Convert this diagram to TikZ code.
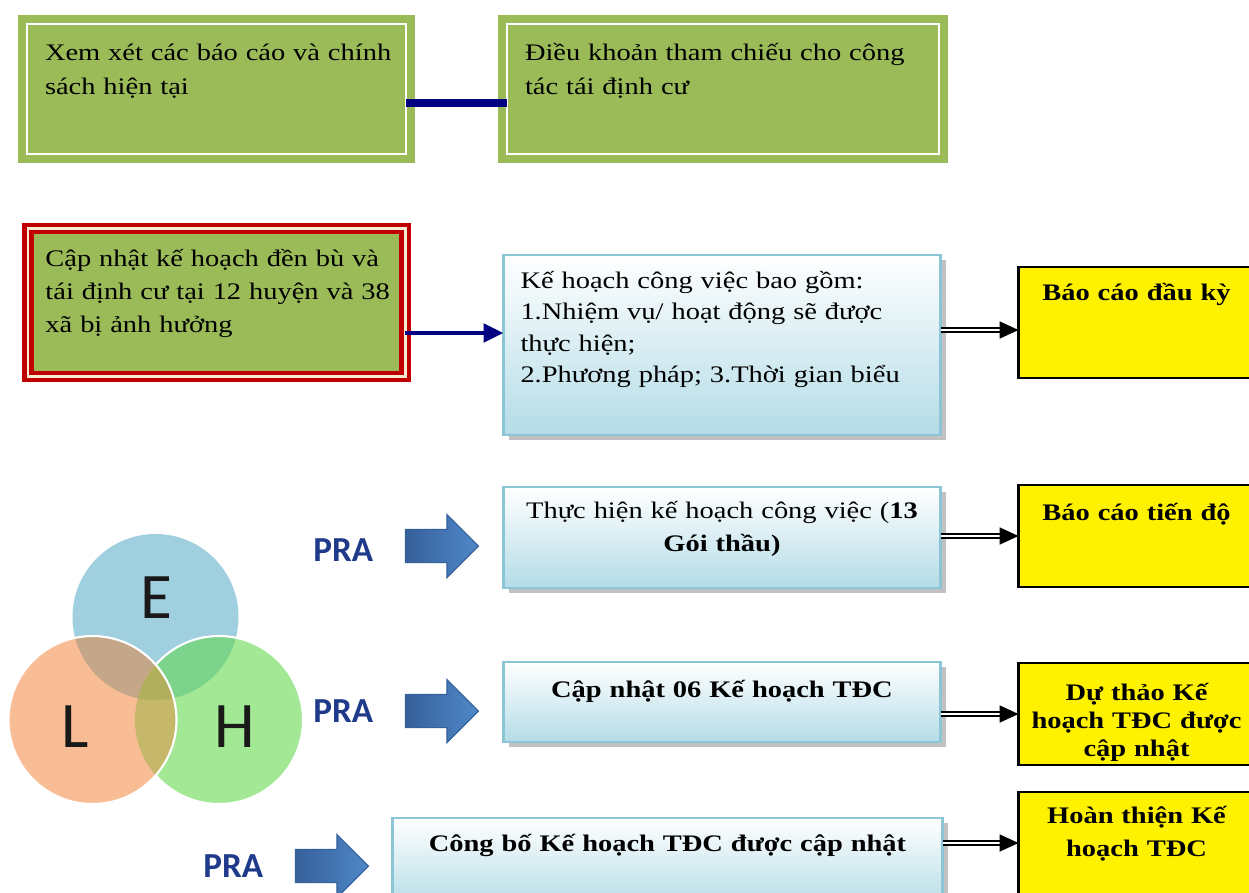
\documentclass[tikz,border=0pt]{standalone}
\usepackage{fontspec}
\setmainfont{Liberation Serif}[FakeStretch=1.2]
\newfontfamily\prafont{Carlito}
\usetikzlibrary{positioning}
\usetikzlibrary{shapes.arrows}
\usetikzlibrary{shadows}
\usetikzlibrary{arrows.meta}

\definecolor{boxgreen}{HTML}{9BBB59}
\definecolor{boxred}{HTML}{C00000}
\definecolor{boxcream}{HTML}{F6ECD2}
\definecolor{planblue}{HTML}{B4DCE7}
\definecolor{planedge}{HTML}{8CC6D6}
\definecolor{linknavy}{HTML}{000080}
\definecolor{arrowblue}{HTML}{5088C8}
\definecolor{arrowdark}{HTML}{35609A}
\definecolor{pratext}{HTML}{1F3A8A}
\definecolor{vennE}{HTML}{A0CFE0}
\definecolor{vennL}{HTML}{F8BD94}
\definecolor{vennH}{HTML}{A2E895}
\definecolor{vennEL}{HTML}{C4A688}
\definecolor{vennEH}{HTML}{7CD38C}
\definecolor{vennLH}{HTML}{C6B86A}
\definecolor{vennELH}{HTML}{B1AE5C}

\tikzset{green node/.style={shape=rectangle,
    draw=boxgreen, double=white, double distance=1.5pt, line width=4.5pt,
    fill=boxgreen, align=left, outer sep=0pt,
    text width=6.86cm, inner xsep=0.36cm, inner ysep=0.3cm,
    text height=0.42cm, text depth=1.58cm,
    font=\fontsize{13.5}{19.9}\selectfont}}
\tikzset{red node/.style={shape=rectangle,
    draw=boxred, double=boxcream, double distance=1.7pt, line width=2.3pt,
    fill=boxgreen, align=left, outer sep=0pt,
    text width=6.84cm, inner xsep=0.35cm, inner ysep=0.3cm,
    text height=0.45cm, text depth=1.91cm,
    font=\fontsize{13.5}{19}\selectfont}}
\tikzset{plan node/.style={shape=rectangle,
    draw=planedge, line width=1.2pt,
    top color=white, bottom color=planblue,
    drop shadow={shadow xshift=0.1cm, shadow yshift=-0.1cm, fill=black!40, opacity=0.6},
    align=center, outer sep=0pt,
    text width=8.34cm, inner xsep=0.2cm, inner ysep=0.2cm,
    font=\fontsize{13.5}{19}\selectfont}}
\tikzset{report node/.style={shape=rectangle,
    draw=black, line width=1.2pt, fill=yellow,
    align=center, outer sep=0pt,
    text width=4.32cm, inner xsep=0.2cm, inner ysep=0.2cm,
    font=\bfseries\fontsize{13.5}{19.3}\selectfont}}
\tikzset{pra arrow/.style={single arrow, single arrow head extend=0.3cm,
    single arrow tip angle=90, minimum height=1.46cm,
    inner xsep=0pt, inner ysep=0.32cm, outer sep=0pt,
    left color=arrowdark, right color=arrowblue, draw=arrowdark, line width=0.6pt}}
\tikzset{pra label/.style={inner sep=0pt, text=pratext,
    font=\prafont\bfseries\fontsize{20}{24}\selectfont}}
\tikzset{venn letter/.style={inner sep=0pt, text=black!90,
    font=\prafont\fontsize{37}{40}\selectfont}}
\tikzset{link line/.style={linknavy, line width=4pt}}
\tikzset{link arrow/.style={linknavy, line width=2.8pt,
    -{Triangle[length=0.4cm, width=0.36cm]}}}
\tikzset{report arrow/.style={draw=black, double=white, double distance=1.4pt,
    line width=1pt, -{Triangle[length=0.38cm, width=0.34cm]}}}

\begin{document}
\begin{tikzpicture}
    \useasboundingbox[fill=white] (0,0) rectangle (24.98,-17.84);

    % three circles E, L, H
    \coordinate (ce) at (3.11,-12.34);
    \coordinate (cl) at (1.85,-14.4);
    \coordinate (ch) at (4.38,-14.4);
    \fill[vennE] (ce) circle (1.66cm);
    \fill[vennH] (ch) circle (1.68cm);
    \begin{scope}
        \clip (ce) circle (1.66cm);
        \fill[vennEH] (ch) circle (1.68cm);
    \end{scope}
    \draw[white, line width=1.2pt] (ch) circle (1.68cm);
    \fill[vennL] (cl) circle (1.68cm);
    \begin{scope}
        \clip (ce) circle (1.66cm);
        \fill[vennEL] (cl) circle (1.68cm);
    \end{scope}
    \begin{scope}
        \clip (ch) circle (1.68cm);
        \fill[vennLH] (cl) circle (1.68cm);
        \clip (ce) circle (1.66cm);
        \fill[vennELH] (cl) circle (1.68cm);
    \end{scope}
    \draw[white, line width=1.2pt] (cl) circle (1.68cm);

    \node[venn letter] (18) at (3.12,-11.96) {E};
    \node[venn letter] (19) at (1.5,-14.54) {L};
    \node[venn letter] (20) at (4.7,-14.54) {H};

    \node[green node, anchor=north west] (1) at (0.54,-0.48) {Xem~xét~các~báo~cáo~và~chính\\sách hiện tại};
    \node[green node, text width=7.92cm] (2) [right = 2.02cm of 1] {Điều khoản tham chiếu cho công\\tác tái định cư};

    \node[red node] (3) [below = 1.49cm of 1] {Cập~nhật~kế~hoạch~đền~bù~và\\tái~định~cư~tại~12~huyện~và~38\\xã bị ảnh hưởng};
    \node[plan node, align=left, text width=8.06cm, inner xsep=0.34cm,
        text height=0.46cm, text depth=2.74cm, font=\fontsize{13.5}{18}\selectfont]
        (4) [below right = -2.43cm and 1.97cm of 3]
        {Kế hoạch công việc bao gồm:\\1.Nhiệm vụ/ hoạt động sẽ được\\thực hiện;\\2.Phương pháp; 3.Thời gian biểu};
    \node[report node, text height=0.46cm, text depth=1.36cm] (5) [below right = 0.24cm and 1.56cm of 4.north east] {Báo cáo đầu kỳ};

    \node[plan node, text height=0.42cm, text depth=1.2cm] (6) [below = 1.04cm of 4] {Thực hiện kế hoạch công việc (\textbf{13}\\\textbf{Gói thầu)}};
    \node[report node, text height=0.5cm, text depth=1.14cm] (7) [below = 2.14cm of 5] {Báo cáo tiến độ};

    \node[plan node, text height=0.5cm, text depth=0.7cm] (8) [below = 1.48cm of 6] {\textbf{Cập nhật 06 Kế hoạch TĐC}};
    \node[report node, text height=0.54cm, text depth=1.1cm, font=\bfseries\fontsize{13.5}{16.2}\selectfont] (9) [below = 1.52cm of 7] {Dự thảo Kế\\hoạch TĐC được\\cập nhật};

    \node[plan node, text width=10.6cm, text height=0.46cm, text depth=0.94cm] (10) [below = 1.52cm of 8, xshift=-1.09cm] {\textbf{Công bố Kế hoạch TĐC được cập nhật}};
    \node[report node, text height=0.42cm, text depth=1.38cm] (11) [below = 0.54cm of 9] {Hoàn thiện Kế\\hoạch TĐC};

    \node[pra arrow] (12) [left = 0.5cm of 6, yshift=-0.17cm] {};
    \node[pra label] (13) [left = 0.64cm of 12, yshift=-0.08cm] {PRA};
    \node[pra arrow] (14) [left = 0.5cm of 8, yshift=-0.18cm] {};
    \node[pra label] (15) [left = 0.64cm of 14] {PRA};
    \node[pra arrow] (16) [left = 0.48cm of 10, yshift=-0.06cm] {};
    \node[pra label] (17) [left = 0.64cm of 16] {PRA};

    \path[draw, link line] ([yshift=-0.28cm]1.east) -- ([yshift=-0.28cm]2.west);
    \path[draw, link arrow] ([yshift=0.24cm]4.west -| 3.east) -- ([yshift=0.24cm]4.west);

    \draw[report arrow] ([yshift=-0.15cm]5.west -| 4.east) -- ([yshift=-0.15cm]5.west);
    \draw[report arrow] (7.west -| 6.east) -- (7.west);
    \draw[report arrow] (9.west -| 8.east) -- (9.west);
    \draw[report arrow] ([yshift=0.08cm]11.west -| 10.east) -- ([yshift=0.08cm]11.west);
\end{tikzpicture}
\end{document}
